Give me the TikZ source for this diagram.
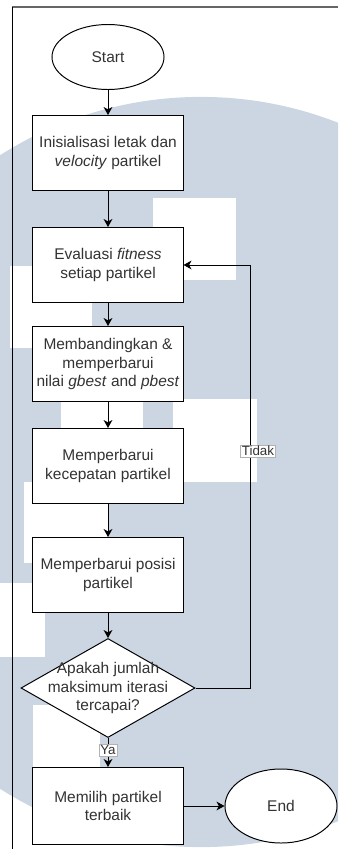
\documentclass[tikz,border=0pt]{standalone}
\usepackage{fontspec}
\setmainfont{Liberation Sans}
\usetikzlibrary{shapes.geometric, arrows.meta}
\definecolor{wmblue}{RGB}{203,214,226}
\definecolor{ink}{RGB}{51,51,51}

\begin{document}
\begin{tikzpicture}[x=0.025cm, y=-0.025cm, line width=0.7pt,
  >={Stealth[length=2mm, width=2.2mm, inset=0.6mm]},
  every node/.style={font=\fontsize{11}{13}\selectfont, text=ink, align=center},
  proc/.style={draw, fill=white, minimum width=3.75cm, minimum height=1.875cm, inner sep=2pt},
  term/.style={ellipse, draw, fill=white, minimum width=2.8cm},
  cond/.style={diamond, draw, fill=white, minimum width=4.35cm, minimum height=2.475cm, inner sep=0pt},
  tag/.style={draw=black!30, fill=white, inner sep=1pt, line width=0.4pt, font=\fontsize{9.5}{11}\selectfont}]

\useasboundingbox (0,0) rectangle (338,849);
\begin{scope}
  \clip (0,0) rectangle (338,849);
  \fill[wmblue] (201,472) circle (9.375cm);
  \foreach \xa/\ya/\xb/\yb in {153/198/236/280, 10/266/92/348, 61/399/143/480, 173/399/257/482,
                               24/482/108/563, 0/583/45/657, 33/705/100/768} {
    \fill[white] (\xa,\ya) rectangle (\xb,\yb);
  }
\end{scope}
\draw[black!60, line width=1.3pt] (12,7) -- (338,7);
\draw (12,7) -- (12,849);

\node[term, minimum height=1.625cm] (start) at (108,57) {Start};
\node[proc] (init) at (108,153) {Inisialisasi letak dan\\\textit{velocity} partikel};
\node[proc] (eval) at (108,265) {Evaluasi \textit{fitness}\\setiap partikel};
\node[proc] (cmp) at (108,364) {Membandingkan \&\\memperbarui\\nilai \textit{gbest} and \textit{pbest}};
\node[proc] (vel) at (108,466) {Memperbarui\\kecepatan partikel};
\node[proc] (pos) at (108,575) {Memperbarui posisi\\partikel};
\node[cond, label={center:Apakah jumlah\\maksimum iterasi\\tercapai?}] (chk) at (108,688) {};
\node[proc, minimum height=1.925cm] (best) at (108,806) {Memilih partikel\\terbaik};
\node[term, minimum height=1.85cm] (end) at (281,806) {End};

\foreach \a/\b in {start/init, init/eval, eval/cmp, cmp/vel, vel/pos, pos/chk}
  \draw[->] (\a) -- (\b);
\draw[->] (chk) -- node[tag, pos=0.42] (ya) {Ya} (best);
\draw[->] (best) -- (end);

\coordinate (c1) at (250,688);
\coordinate (c2) at (250,265);
\draw[->] (chk.east) -- (c1) -- node[tag, pos=0.56, xshift=0.2cm] (tidak) {Tidak} (c2) -- (eval.east);
\end{tikzpicture}
\end{document}
